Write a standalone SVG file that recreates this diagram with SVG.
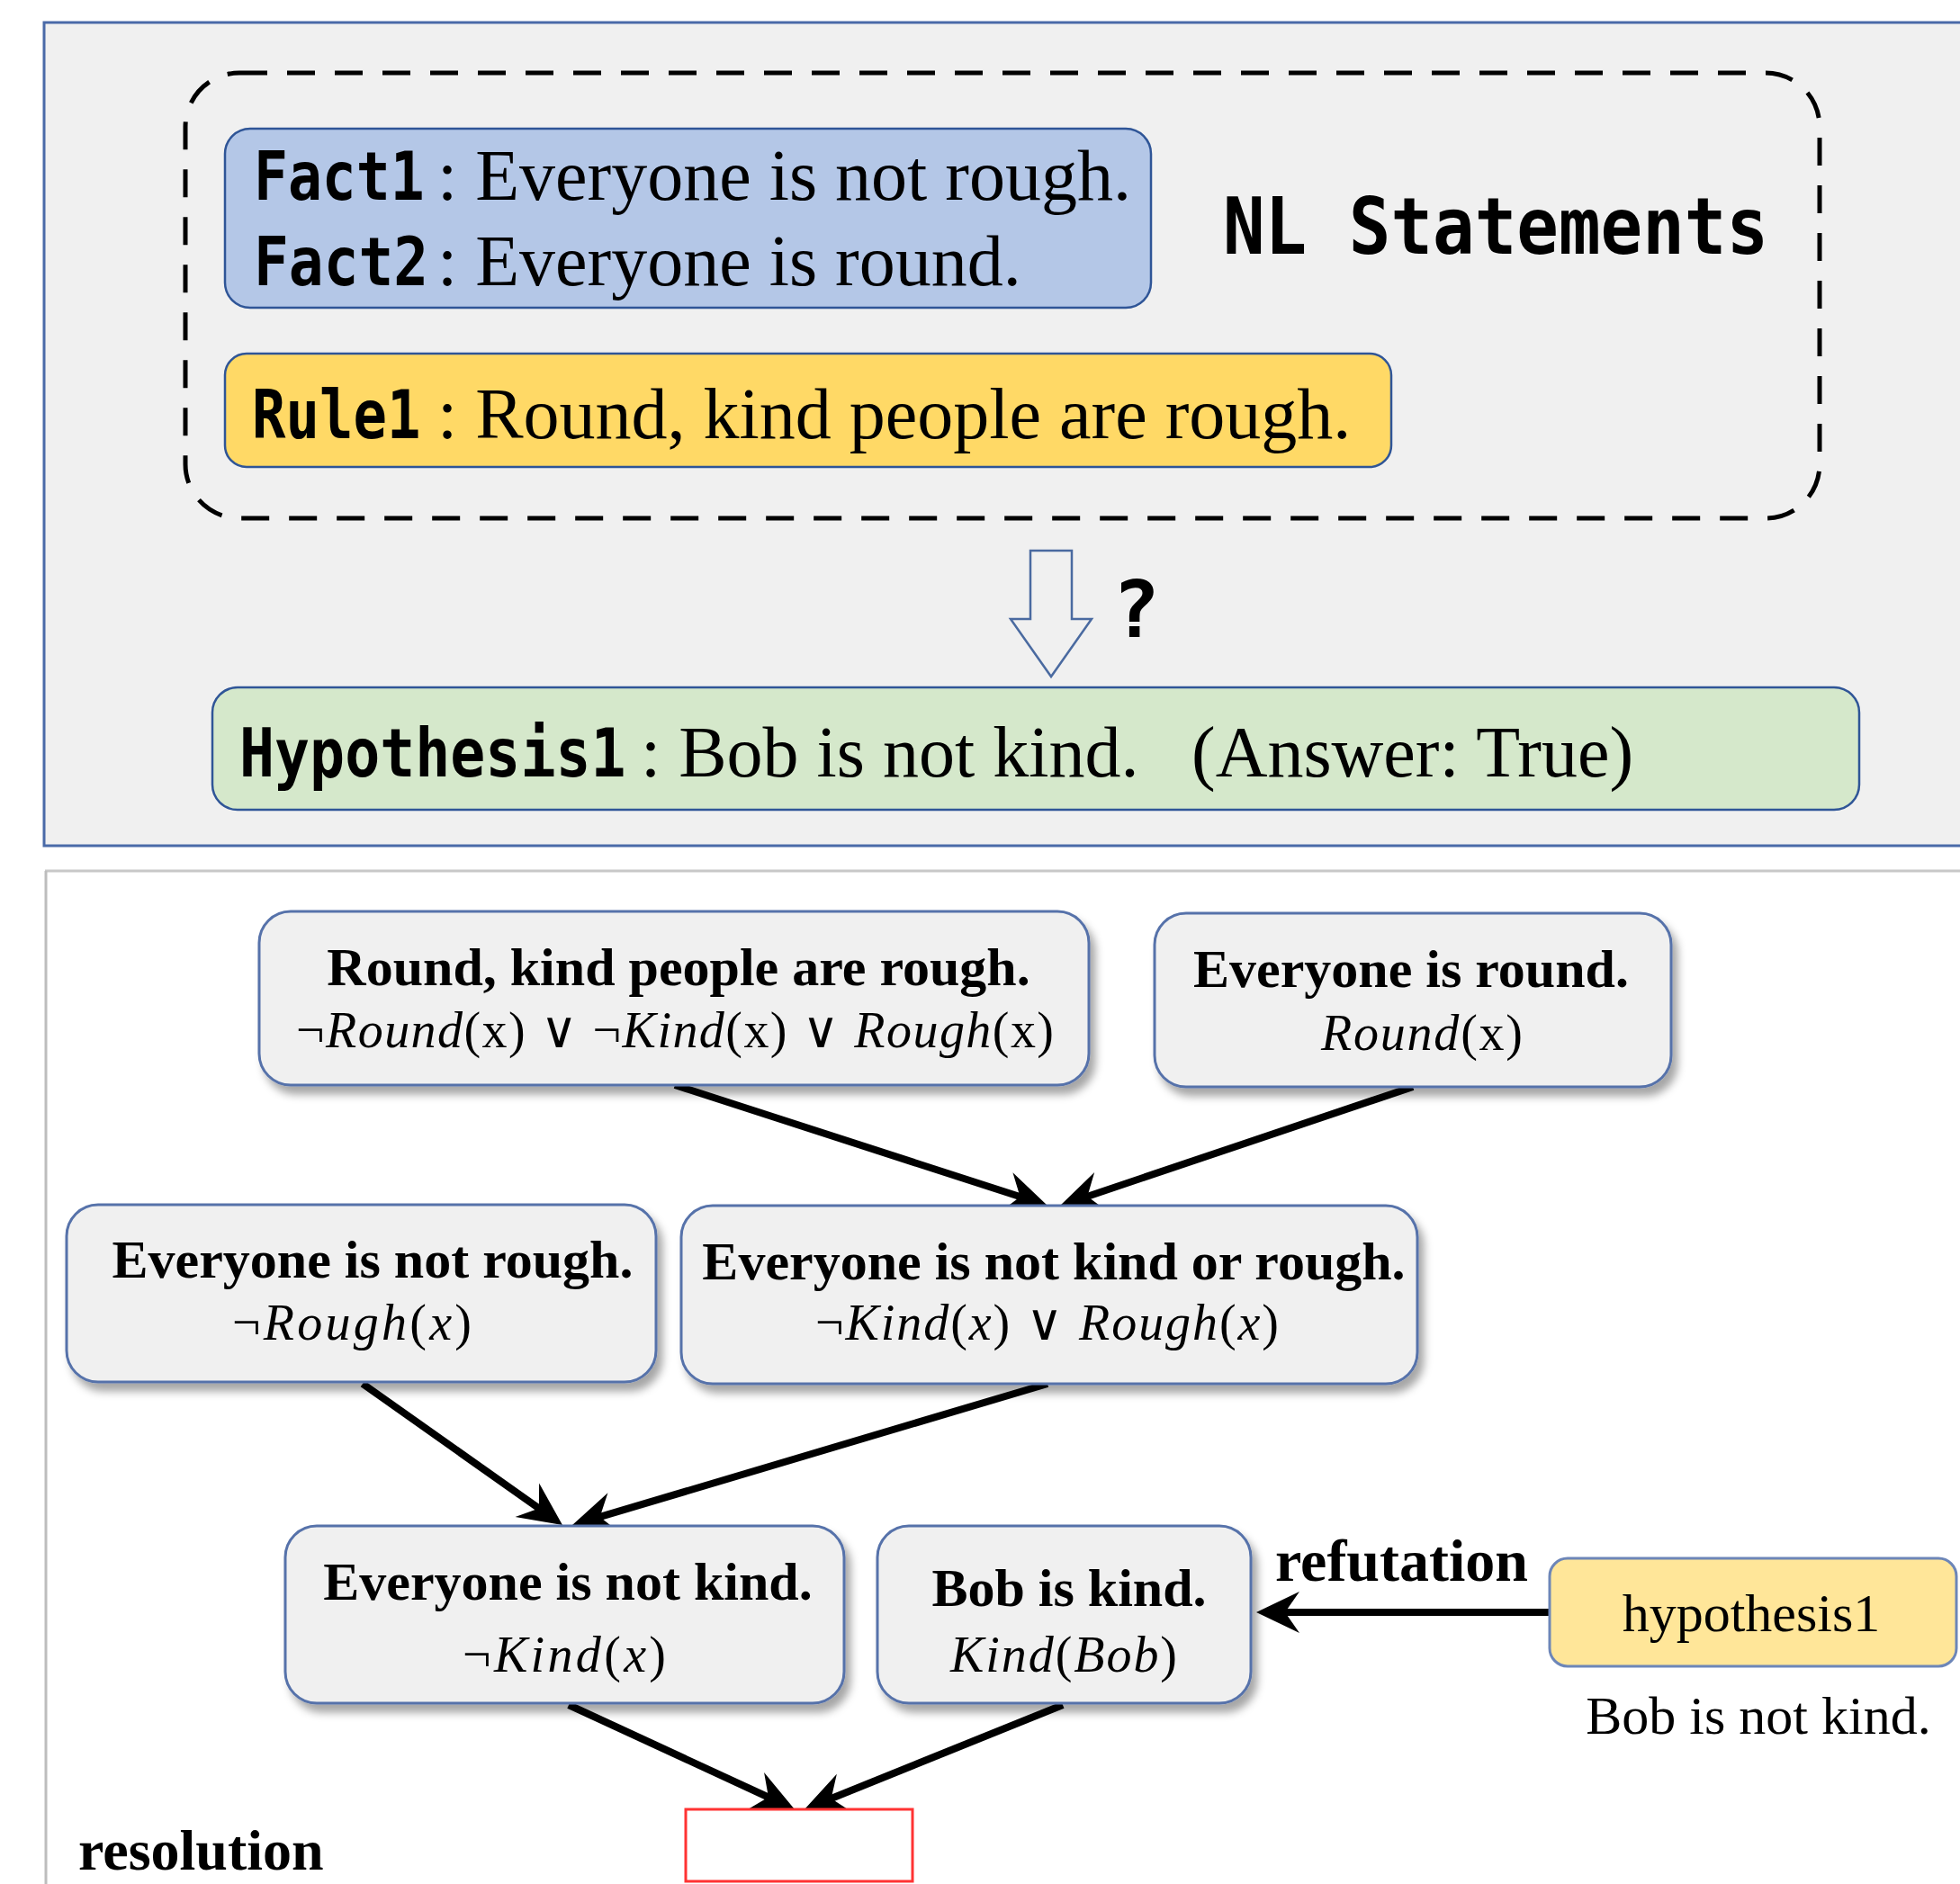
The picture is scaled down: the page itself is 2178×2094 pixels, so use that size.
<svg xmlns="http://www.w3.org/2000/svg" width="2178" height="2094" viewBox="0 0 2178 2094">
<style>
.serif{font-family:"Liberation Serif","DejaVu Serif",serif;fill:#000}
.mono{font-family:"DejaVu Sans Mono","Liberation Mono",monospace;font-weight:bold;fill:#000}
.lt{font-family:"Liberation Serif","DejaVu Serif",serif;font-size:80px;fill:#000}
.lbl{font-size:75px}
.b60{font-size:60px;font-weight:bold;text-anchor:middle}
.r60{font-size:60px;text-anchor:middle}
.m{font-size:56px}
.i{font-style:italic}
.node{fill:#f0f0f0;stroke:#5672aa;stroke-width:3}
.conn{stroke:#000;stroke-width:8;fill:none;marker-end:url(#ah)}
.tb{stroke:#2f5597;stroke-width:2.5}
</style>
<defs>
<filter id="sh" x="-10%" y="-10%" width="125%" height="140%">
<feDropShadow dx="6" dy="9" stdDeviation="5" flood-color="#000" flood-opacity="0.35"/>
</filter>
<marker id="ah" markerUnits="userSpaceOnUse" viewBox="-40 -25 60 50" markerWidth="60" markerHeight="50" refX="0" refY="0" orient="auto">
<path d="M12,0 L-36,-23 L-20,0 L-36,23 Z" fill="#000"/>
</marker>
</defs>
<rect width="2178" height="2094" fill="#fff"/>

<g id="top-panel">
<rect x="49" y="25" width="2200" height="915" fill="#f0f0f0" stroke="#4a6aa8" stroke-width="3"/>
<rect x="206" y="81" width="1816" height="495" rx="60" fill="none" stroke="#000" stroke-width="5" stroke-dasharray="31 22"/>
</g>

<g id="facts">
<rect class="tb" x="250" y="143" width="1029" height="199" rx="28" fill="#b4c7e7"/>
<text class="mono lbl" transform="translate(282,222) scale(0.84,1)">Fact1</text>
<text class="lt" x="486" y="222">: Everyone is not rough.</text>
<text class="mono lbl" transform="translate(282,317) scale(0.86,1)">Fact2</text>
<text class="lt" x="486" y="317">: Everyone is round.</text>
</g>

<g id="nl-label">
<text class="mono" font-size="88" transform="translate(1359,282) scale(0.88,1)">NL Statements</text>
</g>

<g id="rule">
<rect class="tb" x="250" y="393" width="1296" height="126" rx="24" fill="#ffd966"/>
<text class="mono lbl" transform="translate(280,487) scale(0.83,1)">Rule1</text>
<text class="lt" x="486" y="487">: Round, kind people are rough.</text>
</g>

<g id="question-arrow">
<path d="M1145,612 L1191,612 L1191,688 L1213,688 L1168,752 L1123,688 L1145,688 Z" fill="#f0f0f0" stroke="#4a6aa0" stroke-width="2.5"/>
<text class="mono" font-size="88" x="1236" y="708">?</text>
</g>

<g id="hypothesis">
<rect class="tb" x="236" y="764" width="1830" height="136" rx="28" fill="#d5e8cb"/>
<text class="mono lbl" transform="translate(266,863) scale(0.865,1)">Hypothesis1</text>
<text class="lt" x="712" y="863">: Bob is not kind.</text>
<text class="lt" x="1324" y="863">(Answer: True)</text>
</g>

<g id="bottom-panel">
<line x1="50" y1="968" x2="2178" y2="968" stroke="#c8c8c8" stroke-width="3"/>
<line x1="51" y1="968" x2="51" y2="2094" stroke="#bdbdbd" stroke-width="3"/>
</g>

<g id="connectors">
<line class="conn" x1="750" y1="1206" x2="1152.6" y2="1336.3"/>
<line class="conn" x1="1570" y1="1208" x2="1189.4" y2="1336.2"/>
<line class="conn" x1="403" y1="1538" x2="615.2" y2="1688.1"/>
<line class="conn" x1="1164" y1="1538" x2="647.5" y2="1691.6"/>
<line class="conn" x1="632" y1="1895" x2="872.1" y2="2006"/>
<line class="conn" x1="1181" y1="1895" x2="905.1" y2="2006.5"/>
<line class="conn" x1="1722" y1="1792" x2="1408" y2="1792"/>
</g>

<g id="n1">
<rect class="node" filter="url(#sh)" x="288" y="1013" width="922" height="193" rx="35"/>
<text class="serif b60" x="754" y="1095">Round, kind people are rough.</text>
<text class="serif m" x="329" y="1164" textLength="842">¬<tspan class="i">Round</tspan>(x)  ∨ ¬<tspan class="i">Kind</tspan>(x) ∨ <tspan class="i">Rough</tspan>(x)</text>
</g>

<g id="n2">
<rect class="node" filter="url(#sh)" x="1283" y="1015" width="574" height="193" rx="35"/>
<text class="serif b60" x="1568" y="1097">Everyone is round.</text>
<text class="serif m" x="1468" y="1167" textLength="224"><tspan class="i">Round</tspan>(x)</text>
</g>

<g id="n3">
<rect class="node" filter="url(#sh)" x="74" y="1339" width="655" height="197" rx="35"/>
<text class="serif b60" x="414" y="1420">Everyone is not rough.</text>
<text class="serif m" x="258" y="1489" textLength="266">¬<tspan class="i">Rough</tspan>(<tspan class="i">x</tspan>)</text>
</g>

<g id="n4">
<rect class="node" filter="url(#sh)" x="757" y="1340" width="818" height="198" rx="35"/>
<text class="serif b60" x="1171" y="1422">Everyone is not kind or rough.</text>
<text class="serif m" x="906" y="1489" textLength="515">¬<tspan class="i">Kind</tspan>(<tspan class="i">x</tspan>) ∨ <tspan class="i">Rough</tspan>(<tspan class="i">x</tspan>)</text>
</g>

<g id="n5">
<rect class="node" filter="url(#sh)" x="317" y="1696" width="621" height="197" rx="35"/>
<text class="serif b60" x="631" y="1778">Everyone is not kind.</text>
<text class="serif m" x="514" y="1858" textLength="226">¬<tspan class="i">Kind</tspan>(<tspan class="i">x</tspan>)</text>
</g>

<g id="n6">
<rect class="node" filter="url(#sh)" x="975" y="1696" width="415" height="197" rx="35"/>
<text class="serif b60" x="1188" y="1785">Bob is kind.</text>
<text class="serif m" x="1056" y="1858" textLength="252"><tspan class="i">Kind</tspan>(<tspan class="i">Bob</tspan>)</text>
</g>

<g id="hyp1">
<rect x="1722" y="1732" width="452" height="120" rx="20" fill="#ffe699" stroke="#6d86b8" stroke-width="3"/>
<text class="serif r60" x="1946" y="1813">hypothesis1</text>
<text class="serif r60" x="1954" y="1927">Bob is not kind.</text>
</g>

<g id="empty-clause">
<rect x="762" y="2011" width="252" height="80" fill="#fff" stroke="#ff3333" stroke-width="3"/>
</g>

<g id="labels">
<text class="serif" font-size="66" font-weight="bold" x="1417" y="1757">refutation</text>
<text class="serif" font-size="64" font-weight="bold" x="87" y="2078">resolution</text>
</g>
</svg>
